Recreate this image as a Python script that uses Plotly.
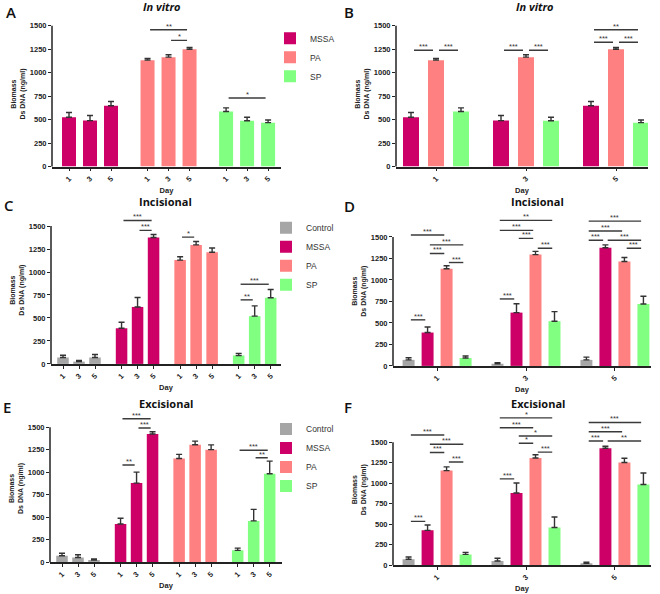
import plotly.graph_objects as go

W, H = 660, 594

# ---------------- data ----------------
days = ["1", "3", "5"]
invitro_strains = ["MSSA", "PA", "SP"]
wound_strains = ["Control", "MSSA", "PA", "SP"]
y_ticks = [0, 250, 500, 750, 1000, 1250, 1500]

invitro_mssa = [525, 490, 648]
invitro_mssa_err = [52, 55, 46]
invitro_pa = [1134, 1166, 1250]
invitro_pa_err = [17, 25, 18]
invitro_sp = [587, 488, 468]
invitro_sp_err = [38, 38, 28]

incis_control = [70, 25, 70]
incis_control_err = [25, 13, 32]
incis_mssa = [388, 620, 1375]
incis_mssa_err = [65, 103, 33]
incis_pa = [1130, 1295, 1215]
incis_pa_err = [36, 38, 46]
incis_sp = [92, 520, 720]
incis_sp_err = [23, 112, 90]

excis_control = [72, 52, 24]
excis_control_err = [28, 32, 12]
excis_mssa = [425, 880, 1427]
excis_mssa_err = [65, 122, 24]
excis_pa = [1154, 1307, 1252]
excis_pa_err = [46, 40, 53]
excis_sp = [132, 460, 985]
excis_sp_err = [25, 128, 140]

# significance: by-strain panels -> (strain, day_i, day_j, level, label)
sig_A = [("PA", 0, 2, 1458, "**"), ("PA", 1, 2, 1345, "*"), ("SP", 0, 2, 730, "*")]
sig_C = [("MSSA", 0, 2, 1561, "***"), ("MSSA", 1, 2, 1453, "***"), ("PA", 0, 1, 1380, "*"),
         ("SP", 0, 2, 867, "***"), ("SP", 0, 1, 697, "**")]
sig_E = [("MSSA", 0, 2, 1596, "***"), ("MSSA", 1, 2, 1493, "***"), ("MSSA", 0, 1, 1081, "**"),
         ("SP", 0, 2, 1246, "***"), ("SP", 1, 2, 1162, "**")]
# by-day panels -> (day, strain_i, strain_j, level, label)
sig_B = [(0, "MSSA", "PA", 1240, "***"), (0, "PA", "SP", 1240, "***"),
         (1, "MSSA", "PA", 1240, "***"), (1, "PA", "SP", 1240, "***"),
         (2, "MSSA", "PA", 1324, "***"), (2, "PA", "SP", 1324, "***"), (2, "MSSA", "SP", 1458, "**")]
sig_D = [(0, "Control", "PA", 1523, "***"), (0, "MSSA", "SP", 1408, "***"), (0, "MSSA", "PA", 1308, "***"),
         (0, "PA", "SP", 1203, "***"), (0, "Control", "MSSA", 536, "***"),
         (1, "Control", "SP", 1693, "**"), (1, "Control", "PA", 1577, "***"), (1, "MSSA", "PA", 1484, "***"),
         (1, "PA", "SP", 1369, "***"), (1, "Control", "MSSA", 779, "***"),
         (2, "Control", "SP", 1685, "***"), (2, "Control", "PA", 1570, "***"), (2, "Control", "MSSA", 1462, "***"),
         (2, "MSSA", "SP", 1462, "***"), (2, "PA", "SP", 1369, "***")]
sig_F = [(0, "Control", "PA", 1588, "***"), (0, "MSSA", "SP", 1476, "***"), (0, "MSSA", "PA", 1375, "***"),
         (0, "PA", "SP", 1259, "***"), (0, "Control", "MSSA", 535, "***"),
         (1, "Control", "SP", 1797, "*"), (1, "Control", "PA", 1677, "***"), (1, "MSSA", "SP", 1576, "*"),
         (1, "MSSA", "PA", 1488, "*"), (1, "PA", "SP", 1379, "***"), (1, "Control", "MSSA", 1053, "***"),
         (2, "Control", "SP", 1741, "***"), (2, "Control", "PA", 1628, "***"), (2, "Control", "MSSA", 1516, "***"),
         (2, "MSSA", "SP", 1516, "**")]

invitro_means = {"MSSA": invitro_mssa, "PA": invitro_pa, "SP": invitro_sp}
invitro_errs = {"MSSA": invitro_mssa_err, "PA": invitro_pa_err, "SP": invitro_sp_err}
incis_means = {"Control": incis_control, "MSSA": incis_mssa, "PA": incis_pa, "SP": incis_sp}
incis_errs = {"Control": incis_control_err, "MSSA": incis_mssa_err, "PA": incis_pa_err, "SP": incis_sp_err}
excis_means = {"Control": excis_control, "MSSA": excis_mssa, "PA": excis_pa, "SP": excis_sp}
excis_errs = {"Control": excis_control_err, "MSSA": excis_mssa_err, "PA": excis_pa_err, "SP": excis_sp_err}

# ---------------- style ----------------
colors = {"Control": "#A6A6A6", "MSSA": "#CC0066", "PA": "#FF8080", "SP": "#80FF80"}
TICKFONT = dict(family="Liberation Sans, Arial", size=7.5, color="#222", weight="bold")
AXFONT = dict(family="Liberation Sans, Arial", size=7.5, color="#222", weight="bold")
TITLEFONT = "Open Sans"

# pixel geometry of each panel
geo = {
    "A": dict(x0=52, x1=281, y0=168, y1500=26, unit=21, G=3.74, width=0.667, left=-0.81),
    "B": dict(x0=396, x1=648, y0=168, y1500=26, unit=25, G=3.6, width=0.64, left=-0.6),
    "C": dict(x0=51, x1=281, y0=367, y1500=228, unit=16, G=3.66, width=0.72, left=-0.75),
    "D": dict(x0=393, x1=651, y0=369, y1500=239, unit=19, G=4.68, width=0.63, left=-0.82),
    "E": dict(x0=50, x1=282, y0=567, y1500=431, unit=16, G=3.66, width=0.72, left=-0.75),
    "F": dict(x0=393, x1=651, y0=570, y1500=446, unit=19, G=4.68, width=0.63, left=-0.82),
}

fig = go.Figure()
shapes, annotations = [], []
layout = {}


def add_panel(idx, key, mode, strains, means, errs, sigs, legend=None):
    g = geo[key]
    sfx = "" if idx == 1 else str(idx)
    xa, ya = "x" + sfx, "y" + sfx
    n = len(strains)

    def pos(si, di):
        return si * g["G"] + di if mode == "strain" else di * g["G"] + si

    for si, s in enumerate(strains):
        fig.add_trace(go.Bar(
            x=[pos(si, di) for di in range(len(days))], y=means[s], width=g["width"],
            name=s, marker=dict(color=colors[s], line=dict(width=0)),
            error_y=dict(type="data", array=errs[s], arrayminus=[0] * len(days), symmetric=False,
                         color="#333333", thickness=1.4, width=3),
            xaxis=xa, yaxis=ya, showlegend=legend is not None,
            legend=legend if legend else "legend", hoverinfo="skip"))

    top_val = max(max(s[3] for s in sigs), 1500) + 45
    if mode == "strain":
        tickvals = [pos(si, di) for si in range(n) for di in range(len(days))]
        ticktext = days * n
    else:
        tickvals = [pos((n - 1) / 2, di) for di in range(len(days))]
        ticktext = days
    right = g["left"] + (g["x1"] - g["x0"]) / g["unit"]
    ptop = g["y0"] - (g["y0"] - g["y1500"]) * top_val / 1500
    layout["xaxis" + sfx] = dict(
        domain=[g["x0"] / W, g["x1"] / W], range=[g["left"], right], anchor=ya,
        tickvals=tickvals, ticktext=ticktext, tickangle=-45, ticks="outside", ticklen=3,
        tickwidth=1.2, tickcolor="#222", showline=True, linecolor="#222", linewidth=1.5,
        showgrid=False, zeroline=False, tickfont=TICKFONT,
        title=dict(text="Day", font=AXFONT, standoff=5))
    layout["yaxis" + sfx] = dict(
        domain=[1 - g["y0"] / H, 1 - ptop / H], range=[0, top_val], anchor=xa,
        tickvals=y_ticks, ticks="outside", ticklen=3, tickwidth=1.2, tickcolor="#222",
        showline=False, showgrid=False, zeroline=False, tickfont=TICKFONT,
        title=dict(text="Biomass<br>Ds DNA (ng/ml)", font=dict(AXFONT, size=7), standoff=3))
    # y axis line from 0 to 1500 only
    shapes.append(dict(type="line", xref="paper", yref="paper",
                       x0=g["x0"] / W, x1=g["x0"] / W,
                       y0=1 - g["y0"] / H, y1=1 - g["y1500"] / H,
                       line=dict(color="#222", width=1.5)))
    # significance brackets
    for grp, a, b, lvl, lab in sigs:
        if mode == "strain":
            si = strains.index(grp)
            xa0, xb0 = pos(si, a), pos(si, b)
        else:
            xa0, xb0 = pos(strains.index(a), grp), pos(strains.index(b), grp)
        shapes.append(dict(type="line", xref=xa, yref=ya, x0=xa0 + 0.12, x1=xb0 - 0.12,
                           y0=lvl, y1=lvl, line=dict(color="#3a3a3a", width=1.4)))
        annotations.append(dict(xref=xa, yref=ya, x=(xa0 + xb0) / 2, y=lvl, text=lab,
                                showarrow=False, yanchor="bottom", yshift=-3,
                                font=dict(family="Liberation Sans, Arial", size=7.5, color="#333")))


add_panel(1, "A", "strain", invitro_strains, invitro_means, invitro_errs, sig_A, legend="legend")
add_panel(2, "B", "day", invitro_strains, invitro_means, invitro_errs, sig_B)
add_panel(3, "C", "strain", wound_strains, incis_means, incis_errs, sig_C, legend="legend2")
add_panel(4, "D", "day", wound_strains, incis_means, incis_errs, sig_D)
add_panel(5, "E", "strain", wound_strains, excis_means, excis_errs, sig_E, legend="legend3")
add_panel(6, "F", "day", wound_strains, excis_means, excis_errs, sig_F)

# panel letters and titles
letters = [("A", 4, 12), ("B", 342, 12), ("C", 2, 207), ("D", 342, 208), ("E", 1, 410), ("F", 342, 410)]
for t, px, py in letters:
    annotations.append(dict(xref="paper", yref="paper", x=px / W, y=1 - py / H, text=t,
                            xanchor="left", yanchor="middle", showarrow=False,
                            font=dict(family=TITLEFONT, size=15, color="#111", weight=600)))
titles = [("<i>In vitro</i>", 162, 7), ("<i>In vitro</i>", 535, 7), ("Incisional", 165, 203.5),
          ("Incisional", 537, 203.5), ("Excisional", 166, 407), ("Excisional", 538, 407)]
for t, px, py in titles:
    annotations.append(dict(xref="paper", yref="paper", x=px / W, y=1 - py / H, text=t,
                            xanchor="center", yanchor="middle", showarrow=False,
                            font=dict(family=TITLEFONT, size=11, color="#111", weight="bold")))

legfont = dict(family="Liberation Sans, Arial", size=8.5, color="#333")
layout.update(
    width=W, height=H, margin=dict(l=0, r=0, t=0, b=0),
    paper_bgcolor="white", plot_bgcolor="white", barmode="overlay", showlegend=True,
    legend=dict(x=270 / W, y=1 - 24 / H, xanchor="left", yanchor="top", font=legfont,
                bgcolor="rgba(0,0,0,0)", itemclick=False),
    legend2=dict(x=266 / W, y=1 - 215 / H, xanchor="left", yanchor="top", font=legfont,
                 bgcolor="rgba(0,0,0,0)"),
    legend3=dict(x=266 / W, y=1 - 418 / H, xanchor="left", yanchor="top", font=legfont,
                 bgcolor="rgba(0,0,0,0)"),
    shapes=shapes, annotations=annotations,
)
fig.update_layout(**layout)
fig.write_html("out.html", config={"displayModeBar": False},
               post_script="document.body.style.margin='0';document.body.style.padding='0';")
